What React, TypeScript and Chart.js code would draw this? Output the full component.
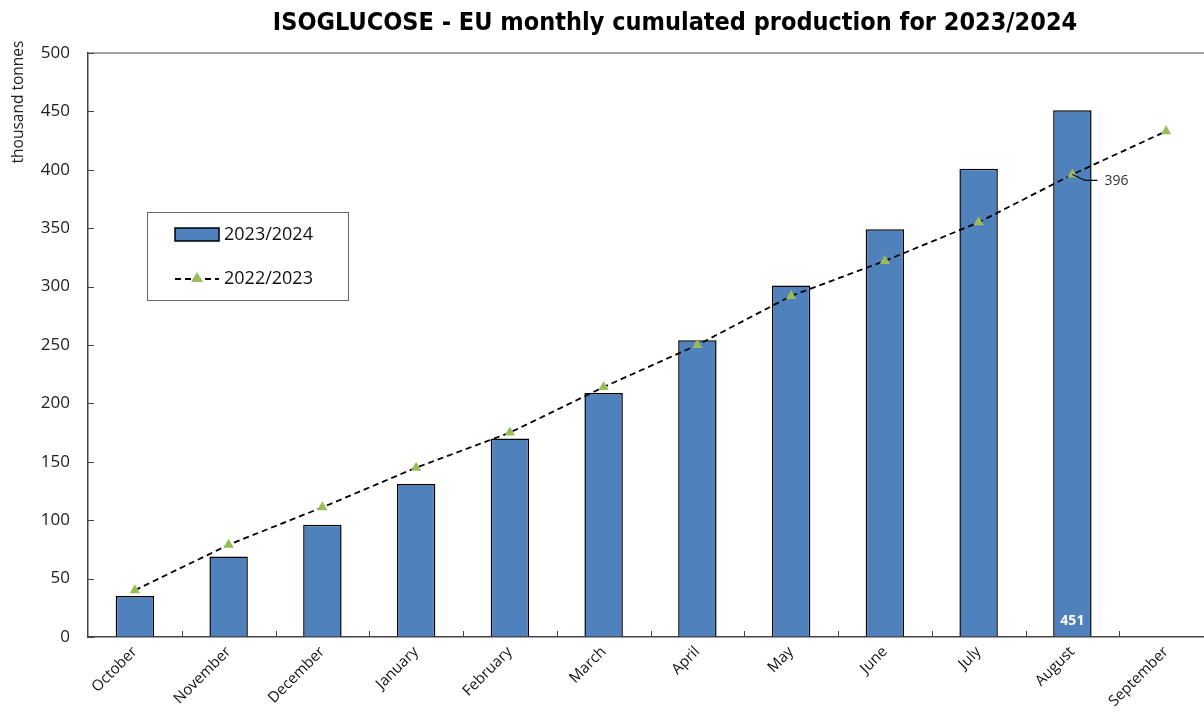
import React, { useEffect, useRef } from "react";
import { Chart, registerables } from "chart.js";

Chart.register(...registerables);

const months = ["October", "November", "December", "January", "February", "March", "April", "May", "June", "July", "August", "September"];
const production2324: (number | null)[] = [35, 69, 96, 131, 170, 209, 254, 301, 349, 401, 451, null];
const production2223: number[] = [40, 79, 111, 145, 175, 214, 250, 292, 322, 355, 396, 433];
const yTicks = [0, 50, 100, 150, 200, 250, 300, 350, 400, 450, 500];

const TITLE = "ISOGLUCOSE - EU monthly cumulated production for 2023/2024";
const BAR_COLOR = "#4F81BD";
const POINT_COLOR = "#9BBB59";
const FONT = "'Open Sans', 'DejaVu Sans', sans-serif";

const overlay = {
  id: "overlay",
  afterDraw(chart: any) {
    const ctx = chart.ctx;
    const area = chart.chartArea;
    const ys = chart.scales.y;
    ctx.save();
    // title
    ctx.fillStyle = "#000";
    ctx.font = "bold 25px 'DejaVu Sans Condensed', 'DejaVu Sans', sans-serif";
    ctx.textAlign = "center";
    ctx.textBaseline = "middle";
    ctx.fillText(TITLE, 675, 23);
    // y title
    ctx.save();
    ctx.translate(19, 102);
    ctx.rotate(-Math.PI / 2);
    ctx.font = "15.5px " + FONT;
    ctx.fillStyle = "#222";
    ctx.fillText("thousand tonnes", 0, 0);
    ctx.restore();
    // top border
    ctx.strokeStyle = "#888";
    ctx.lineWidth = 1.5;
    ctx.beginPath();
    ctx.moveTo(area.left, area.top);
    ctx.lineTo(area.right, area.top);
    ctx.stroke();
    // inward ticks
    ctx.strokeStyle = "#444";
    ctx.lineWidth = 1;
    ctx.beginPath();
    yTicks.forEach((v) => {
      const y = Math.round(ys.getPixelForValue(v)) + 0.5;
      ctx.moveTo(area.left, y);
      ctx.lineTo(area.left + 6, y);
    });
    const step = (area.right - area.left) / months.length;
    for (let i = 1; i < months.length; i++) {
      const x = Math.round(area.left + step * i) + 0.5;
      ctx.moveTo(x, area.bottom);
      ctx.lineTo(x, area.bottom - 6);
    }
    ctx.stroke();
    // labels
    const barMeta = chart.getDatasetMeta(1);
    const lineMeta = chart.getDatasetMeta(0);
    const bi = 10;
    const bar = barMeta.data[bi];
    if (bar) {
      ctx.fillStyle = "#fff";
      ctx.font = "bold 14px " + FONT;
      ctx.textAlign = "center";
      ctx.textBaseline = "middle";
      ctx.fillText(String(production2324[bi]), bar.x, area.bottom - 16);
    }
    const pt = lineMeta.data[bi];
    if (pt) {
      ctx.strokeStyle = "#000";
      ctx.lineWidth = 1.2;
      ctx.beginPath();
      ctx.moveTo(pt.x, pt.y);
      ctx.lineTo(pt.x + 13, pt.y + 6);
      ctx.lineTo(pt.x + 25, pt.y + 6);
      ctx.stroke();
      ctx.fillStyle = "#333";
      ctx.font = "14px " + FONT;
      ctx.textAlign = "left";
      ctx.textBaseline = "middle";
      ctx.fillText(String(production2223[bi]), pt.x + 32, pt.y + 7);
    }
    // legend
    ctx.fillStyle = "#fff";
    ctx.fillRect(147, 212, 201, 88);
    ctx.strokeStyle = "#666";
    ctx.lineWidth = 1;
    ctx.strokeRect(147.5, 212.5, 201, 88);
    ctx.fillStyle = BAR_COLOR;
    ctx.fillRect(175, 228, 44, 13);
    ctx.strokeStyle = "#000";
    ctx.lineWidth = 1.5;
    ctx.strokeRect(175, 228, 44, 13);
    ctx.setLineDash([6, 4]);
    ctx.lineWidth = 1.8;
    ctx.beginPath();
    ctx.moveTo(175, 279);
    ctx.lineTo(219, 279);
    ctx.stroke();
    ctx.setLineDash([]);
    ctx.fillStyle = POINT_COLOR;
    ctx.beginPath();
    ctx.moveTo(197, 272);
    ctx.lineTo(203, 282);
    ctx.lineTo(191, 282);
    ctx.closePath();
    ctx.fill();
    ctx.fillStyle = "#111";
    ctx.font = "18px " + FONT;
    ctx.textAlign = "left";
    ctx.textBaseline = "middle";
    ctx.fillText("2023/2024", 224, 235);
    ctx.fillText("2022/2023", 224, 279);
    ctx.restore();
  },
};

export default function App() {
  const ref = useRef<HTMLCanvasElement>(null);
  useEffect(() => {
    if (!ref.current) return;
    const chart = new Chart(ref.current, {
      type: "bar",
      data: {
        labels: months,
        datasets: [
          {
            type: "line",
            label: "2022/2023",
            data: production2223,
            borderColor: "#000",
            borderWidth: 1.8,
            borderDash: [6, 4],
            pointStyle: "triangle",
            pointRadius: 6,
            pointBackgroundColor: POINT_COLOR,
            pointBorderColor: POINT_COLOR,
            pointBorderWidth: 0,
            fill: false,
            tension: 0,
            order: 0,
          } as any,
          {
            type: "bar",
            label: "2023/2024",
            data: production2324,
            backgroundColor: BAR_COLOR,
            borderColor: "#000",
            borderWidth: 1.5,
            barPercentage: 0.82,
            categoryPercentage: 0.5,
            order: 1,
          },
        ],
      },
      options: {
        animation: false,
        responsive: false,
        layout: { padding: { top: 53, left: 0, right: 0, bottom: 0 } },
        plugins: { legend: { display: false }, tooltip: { enabled: false }, title: { display: false } },
        scales: {
          x: {
            grid: { display: true, drawOnChartArea: false, drawTicks: false, tickLength: 0 },
            border: { display: true, color: "#444", width: 1.5 },
            ticks: { maxRotation: 45, minRotation: 45, padding: 6, color: "#111", font: { size: 15, family: FONT } },
            afterFit: (s: any) => { s.height = 80; },
          },
          y: {
            min: 0,
            max: 500,
            grid: { display: true, drawOnChartArea: false, drawTicks: false, tickLength: 0 },
            border: { display: true, color: "#444", width: 1.5 },
            ticks: { stepSize: 50, padding: 18, color: "#222", font: { size: 17, family: FONT } },
            afterFit: (s: any) => { s.width = 88; },
          },
        },
      },
      plugins: [overlay],
    });
    return () => chart.destroy();
  }, []);
  return (
    <div style={{ position: "fixed", left: 0, top: 0, width: 1204, height: 717, overflow: "hidden", background: "#fff" }}>
      <canvas ref={ref} width={1219} height={717} style={{ display: "block", width: 1219, height: 717 }} />
    </div>
  );
}
